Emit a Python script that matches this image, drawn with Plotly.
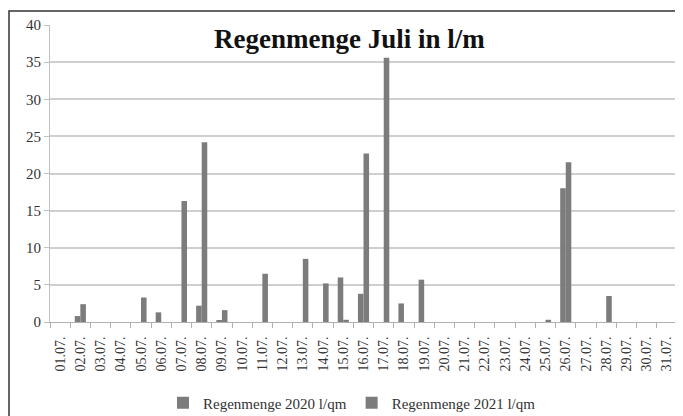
import plotly.graph_objects as go

days = [f"{d:02d}.07." for d in range(1, 32)]
rain_2020 = [0, 0.8, 0, 0, 0, 1.3, 0, 2.2, 0.2, 0,
             0, 0, 0, 0, 6.0, 3.8, 0, 2.5, 5.7, 0,
             0, 0, 0, 0, 0, 18.0, 0, 0, 0, 0, 0]
rain_2021 = [0, 2.4, 0, 0, 3.3, 0, 16.3, 24.2, 1.6, 0,
             6.5, 0, 8.5, 5.2, 0.3, 22.7, 35.6, 0, 0, 0,
             0, 0, 0, 0, 0.3, 21.5, 0, 3.5, 0, 0, 0]
y_ticks = [0, 5, 10, 15, 20, 25, 30, 35, 40]

# the page body adds an 8px offset; size and place everything in figure pixels
OFF = 8
W, H = 683 - OFF, 416 - OFF
L, R, T, B = 50 - OFF, 6, 25 - OFF, 94
pw, ph = W - L - R, H - T - B

def px(x):  # screen x -> paper
    return (x - OFF - L) / pw

def py(y):  # screen y -> paper
    return (H - B - (y - OFF)) / ph

bar_color = "#7c7c7c"
serif = "Liberation Serif, Times New Roman, serif"

fig = go.Figure()
fig.add_trace(go.Bar(x=days, y=rain_2020, name="Regenmenge 2020 l/qm",
                     marker=dict(color=bar_color, line=dict(width=0))))
fig.add_trace(go.Bar(x=days, y=rain_2021, name="Regenmenge 2021 l/qm",
                     marker=dict(color=bar_color, line=dict(width=0))))

fig.update_layout(
    width=W, height=H,
    margin=dict(l=L, r=R, t=T, b=B, autoexpand=False),
    paper_bgcolor="white", plot_bgcolor="white",
    barmode="group", bargap=0.45, bargroupgap=0,
    font=dict(family=serif, size=12, color="#333333"),
    showlegend=True,
    legend=dict(orientation="h", x=px(352), xanchor="center", y=py(403), yanchor="middle",
                font=dict(family=serif, size=15, color="#333333"),
                itemwidth=30, traceorder="normal", tracegroupgap=0),
    xaxis=dict(
        type="category", tickangle=-90, automargin=False,
        ticks="outside", tickson="boundaries", ticklen=5, tickcolor="#b0b0b0",
        showline=True, linecolor="#b0b0b0", linewidth=1,
        showgrid=False, ticklabelstandoff=8,
        tickfont=dict(family=serif, size=14, color="#333333"),
    ),
    yaxis=dict(
        range=[0, 40], tickvals=y_ticks, automargin=False,
        showgrid=True, gridcolor="#cfcfcf", gridwidth=1.5,
        showline=True, linecolor="#c0c0c0", linewidth=1,
        ticks="outside", ticklen=5, tickcolor="#c0c0c0",
        zeroline=False,
        tickfont=dict(family=serif, size=15, color="#333333"),
    ),
    annotations=[dict(
        text="<b>Regenmenge Juli in l/m</b>", x=px(349), y=py(39),
        xref="paper", yref="paper", showarrow=False,
        xanchor="center", yanchor="middle",
        font=dict(family=serif, size=27, color="#111111"),
    )],
    shapes=[dict(
        type="rect", xref="paper", yref="paper",
        x0=px(9), x1=px(700), y0=py(440), y1=py(11),
        line=dict(color="#333333", width=1.5), fillcolor="rgba(0,0,0,0)",
    )],
)

fig.write_html("out.html")
